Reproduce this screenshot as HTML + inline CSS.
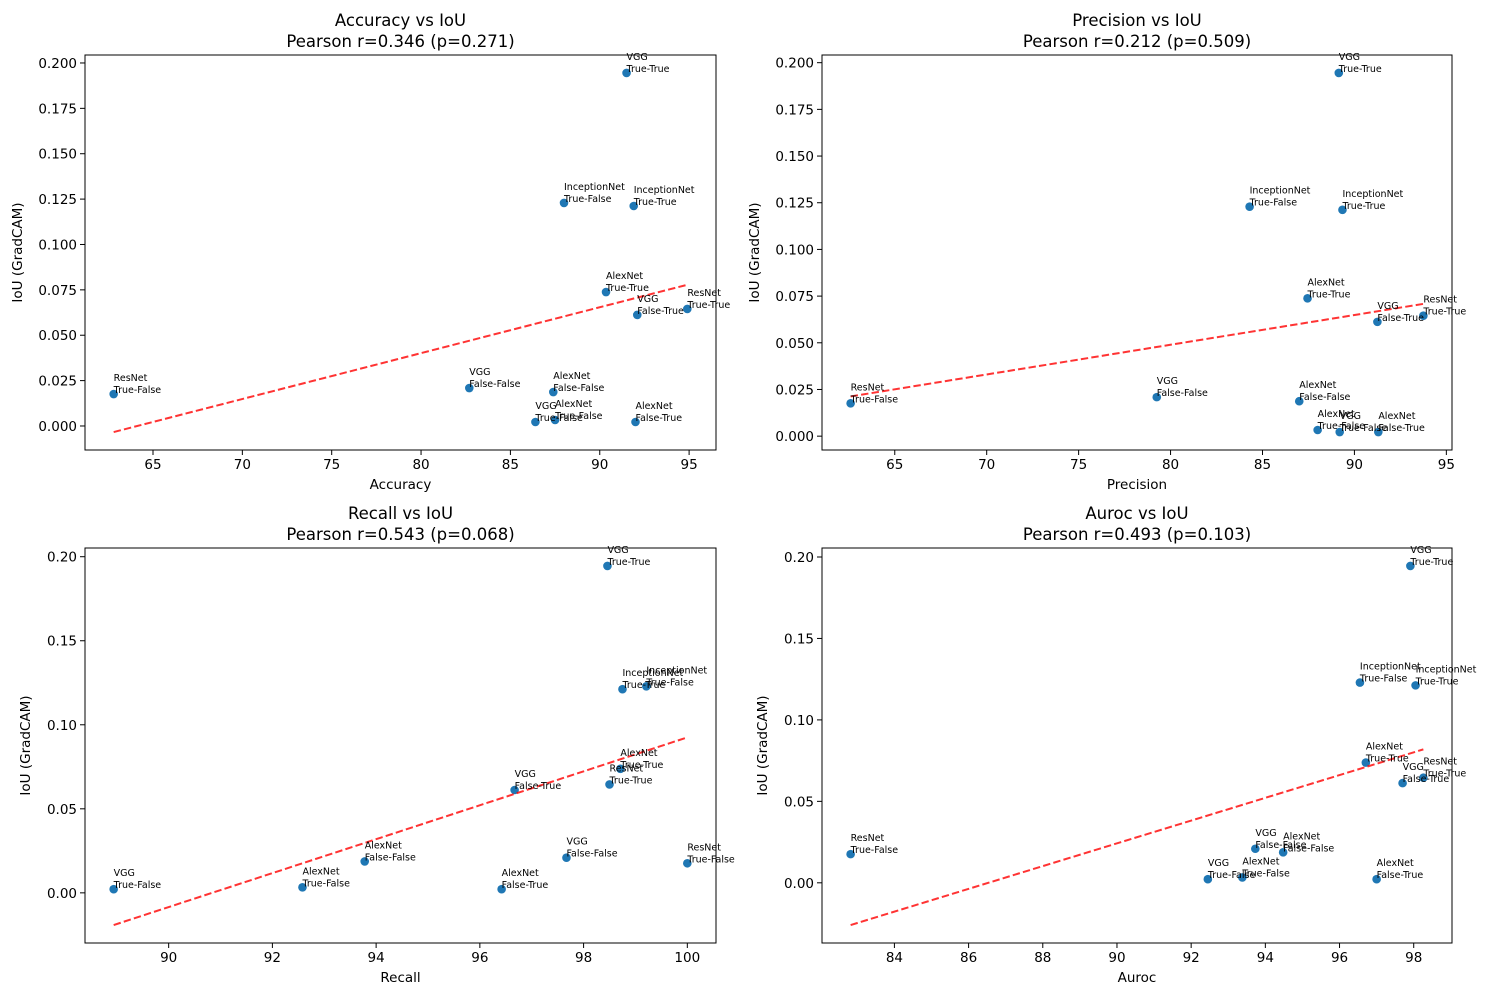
<!DOCTYPE html>
<html><head><meta charset="utf-8"><style>
html,body{margin:0;padding:0;background:#fff}
svg{display:block;font-family:"DejaVu Sans","Liberation Sans",sans-serif}
</style></head><body>
<svg id="fig" width="1500" height="1000" viewBox="0 0 1500 1000"></svg>
<script>
const modelLabels = ["VGG","InceptionNet","InceptionNet","AlexNet","VGG","ResNet","ResNet","VGG","AlexNet","VGG","AlexNet","AlexNet"];
const settingLabels = ["True-True","True-False","True-True","True-True","False-True","True-True","True-False","False-False","False-False","True-False","True-False","False-True"];
const iouValues = [0.1945,0.1229,0.1212,0.0738,0.0612,0.0645,0.0176,0.0209,0.0187,0.0022,0.0033,0.0022];
const accuracyValues = [91.5,88.0,91.9,90.35,92.1,94.9,62.8,82.7,87.4,86.4,87.5,92.0];
const precisionValues = [89.15,84.3,89.35,87.45,91.25,93.75,62.6,79.25,87.0,89.2,88.0,91.3];
const recallValues = [98.46,99.21,98.75,98.71,96.67,98.5,100,97.67,93.78,88.94,92.58,96.42];
const aurocValues = [97.91,96.55,98.05,96.71,97.7,98.26,82.82,93.73,94.48,92.45,93.38,97.0];
const accuracyTicks = [65,70,75,80,85,90,95];
const precisionTicks = [65,70,75,80,85,90,95];
const recallTicks = [90,92,94,96,98,100];
const aurocTicks = [84,86,88,90,92,94,96,98];
const topYTicks = [0,0.025,0.05,0.075,0.1,0.125,0.15,0.175,0.2];
const bottomYTicks = [0,0.05,0.1,0.15,0.2];
const panelTitles = ["Accuracy vs IoU","Precision vs IoU","Recall vs IoU","Auroc vs IoU"];
const pearsonTexts = ["Pearson r=0.346 (p=0.271)","Pearson r=0.212 (p=0.509)","Pearson r=0.543 (p=0.068)","Pearson r=0.493 (p=0.103)"];

const NS="http://www.w3.org/2000/svg";
const svg=document.getElementById('fig');
function mk(tag,attrs,parent){const e=document.createElementNS(NS,tag);for(const k in attrs)e.setAttribute(k,attrs[k]);(parent||svg).appendChild(e);return e;}

const panels=[
 {xs:accuracyValues,xt:accuracyTicks,yt:topYTicks,yd:3,L:85,R:716,T:55,B:450,xlabel:"Accuracy",name:"accuracy"},
 {xs:precisionValues,xt:precisionTicks,yt:topYTicks,yd:3,L:822,R:1452,T:55,B:450,xlabel:"Precision",name:"precision"},
 {xs:recallValues,xt:recallTicks,yt:bottomYTicks,yd:2,L:85,R:716,T:548,B:943,xlabel:"Recall",name:"recall"},
 {xs:aurocValues,xt:aurocTicks,yt:bottomYTicks,yd:2,L:822,R:1452,T:548,B:943,xlabel:"Auroc",name:"auroc"}
];

panels.forEach((p,pi)=>{
  const g=mk('g',{});
  
  
  const xs=p.xs, ys=iouValues, n=xs.length;
  const mx=xs.reduce((a,b)=>a+b)/n, my=ys.reduce((a,b)=>a+b)/n;
  let sxy=0,sxx=0;for(let i=0;i<n;i++){sxy+=(xs[i]-mx)*(ys[i]-my);sxx+=(xs[i]-mx)**2;}
  const slope=sxy/sxx, icpt=my-slope*mx;
  const xmin=Math.min(...xs), xmax=Math.max(...xs);
  const l1=slope*xmin+icpt, l2=slope*xmax+icpt;
  let ymin=Math.min(...ys,l1,l2), ymax=Math.max(...ys,l1,l2);
  const xm=(xmax-xmin)*0.05, ym=(ymax-ymin)*0.05;
  const x0=xmin-xm,x1=xmax+xm,y0=ymin-ym,y1=ymax+ym;
  const X=v=>p.L+(v-x0)/(x1-x0)*(p.R-p.L);
  const Y=v=>p.B-(v-y0)/(y1-y0)*(p.B-p.T);
  const cx=(p.L+p.R)/2;
  const t=mk('text',{x:cx,y:p.T-29,'text-anchor':'middle','font-size':16.5,fill:'#000'},g);
  t.textContent=panelTitles[pi];
  
  
  const t2=mk('text',{x:cx,y:p.T-8,'text-anchor':'middle','font-size':16.5,fill:'#000'},g);
  t2.textContent=pearsonTexts[pi];
  
  
  p.xt.forEach(v=>{const x=X(v);
    mk('line',{x1:x,x2:x,y1:p.B,y2:p.B+5,stroke:'#000','stroke-width':1},g);
    const tl=mk('text',{x:x,y:p.B+19,'text-anchor':'middle','font-size':13.5,fill:'#000'},g);
    tl.textContent=String(v);
    
    
  });
  p.yt.forEach(v=>{const y=Y(v);
    mk('line',{x1:p.L-5,x2:p.L,y1:y,y2:y,stroke:'#000','stroke-width':1},g);
    const tl=mk('text',{x:p.L-8,y:y+5,'text-anchor':'end','font-size':13.5,fill:'#000'},g);
    tl.textContent=v.toFixed(p.yd);
    
    
  });
  const xl=mk('text',{x:cx,y:p.B+39,'text-anchor':'middle','font-size':13.5,fill:'#000'},g);
  xl.textContent=p.xlabel;
  
  
  const yx=p.L-(p.yd===3?63:55), yy=(p.T+p.B)/2;
  const yl=mk('text',{x:yx,y:yy,'text-anchor':'middle','font-size':13.5,fill:'#000',transform:`rotate(-90 ${yx} ${yy})`},g);
  yl.textContent="IoU (GradCAM)";
  
  
  for(let i=0;i<n;i++){
    const c=mk('circle',{cx:X(xs[i]),cy:Y(ys[i]),r:4.3,fill:'#1f77b4'},g);
    
    
  }
  const ln=mk('line',{x1:X(xmin),y1:Y(l1),x2:X(xmax),y2:Y(l2),stroke:'red','stroke-opacity':0.8,'stroke-width':2,'stroke-dasharray':'7.4,3.2'},g);
  
  
  for(let i=0;i<n;i++){
    const a=mk('text',{x:X(xs[i]),y:Y(ys[i])-13,'font-size':9.5,fill:'#000'},g);
    a.textContent=modelLabels[i];
    
    
    const b=mk('text',{x:X(xs[i]),y:Y(ys[i])-1,'font-size':9.5,fill:'#000'},g);
    b.textContent=settingLabels[i];
    
    
  }
  const fr=mk('rect',{x:p.L,y:p.T,width:p.R-p.L,height:p.B-p.T,fill:'none',stroke:'#000','stroke-width':1},g);
  
  
});
</script>
</body></html>
